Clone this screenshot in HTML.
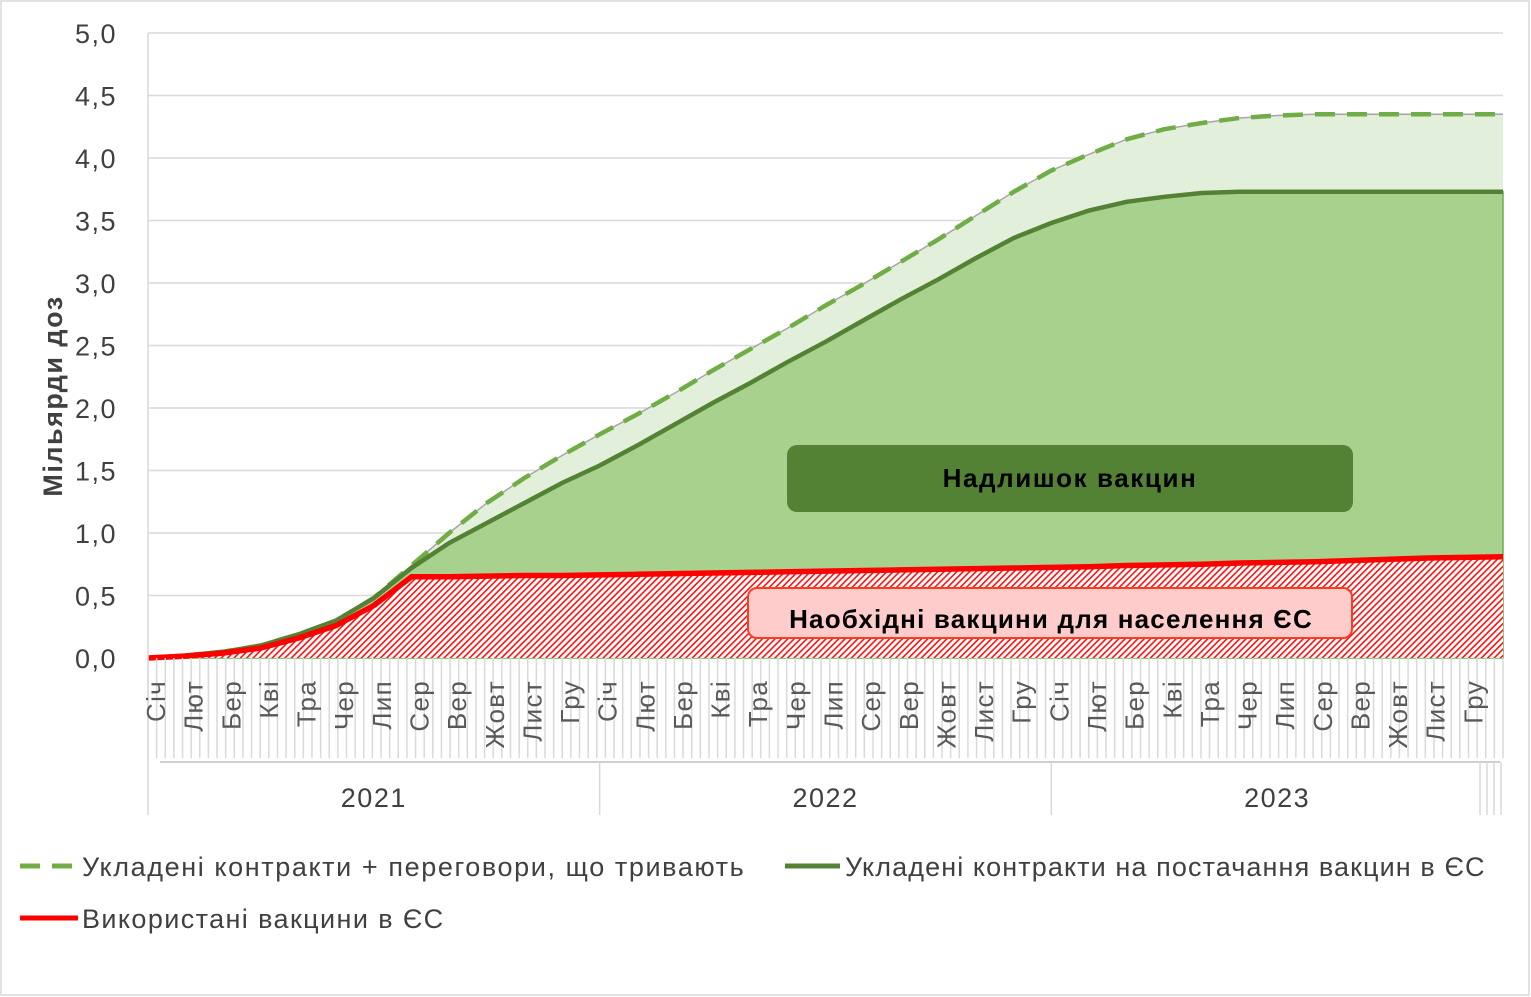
<!DOCTYPE html>
<html><head><meta charset="utf-8"><style>
html,body{margin:0;padding:0;background:#fff}
svg{display:block;font-family:"Liberation Sans","DejaVu Sans",sans-serif}
</style></head><body>
<svg id="chart" width="1531" height="997" viewBox="0 0 1531 997">
<defs>
<pattern id="hatch" width="4.5" height="4.5" patternUnits="userSpaceOnUse" patternTransform="rotate(45)">
<rect width="4.5" height="4.5" fill="#fff"/><rect width="1.6" height="4.5" fill="#ff1010"/>
</pattern>
</defs>
<rect x="1" y="1" width="1528" height="994" fill="#fff" stroke="#d9d9d9" stroke-width="1.5"/>
<g id="grid"></g>
<g id="areas"></g>
<g id="lines"></g>
<g id="axes"></g>
<rect x="787" y="445" width="566" height="67" rx="10" fill="#548235"/>
<text x="1070" y="487" text-anchor="middle" font-size="26" font-weight="bold" letter-spacing="1.6" fill="#000">Надлишок вакцин</text>
<rect x="748" y="588" width="604" height="50" rx="9" fill="#ffcccc" stroke="#ff3b1f" stroke-width="2"/>
<text x="1051" y="628" text-anchor="middle" font-size="26" font-weight="bold" letter-spacing="1.2" fill="#000">Наобхідні вакцини для населення ЄС</text>
<text transform="translate(62,396) rotate(-90)" text-anchor="middle" font-size="27" font-weight="bold" letter-spacing="1.5" fill="#404040">Мільярди доз</text>
<g>
<line x1="20" y1="866" x2="78" y2="866" stroke="#70ad47" stroke-width="5" stroke-dasharray="20,12"/>
<text x="82" y="876" font-size="27" letter-spacing="1.6" fill="#404040">Укладені контракти + переговори, що тривають</text>
<line x1="785" y1="866" x2="840" y2="866" stroke="#548235" stroke-width="5"/>
<text x="845" y="876" font-size="27" letter-spacing="1.1" fill="#404040">Укладені контракти  на постачання вакцин в ЄС</text>
<line x1="20" y1="918" x2="78" y2="918" stroke="#ff0000" stroke-width="5"/>
<text x="82" y="928" font-size="27" letter-spacing="1.4" fill="#404040">Використані вакцини в ЄС</text>
</g>
</svg>
<script>
const months = ["Січ","Лют","Бер","Кві","Тра","Чер","Лип","Сер","Вер","Жовт","Лист","Гру"];
const years = ["2021","2022","2023"];
const yTicks = ["0,0","0,5","1,0","1,5","2,0","2,5","3,0","3,5","4,0","4,5","5,0"];
const dashedVals = [0,0.02,0.05,0.10,0.19,0.30,0.48,0.74,1.0,1.24,1.44,1.62,1.79,1.95,2.12,2.30,2.47,2.64,2.82,2.99,3.17,3.35,3.54,3.73,3.90,4.03,4.15,4.23,4.28,4.32,4.34,4.35,4.35,4.35,4.35,4.35,4.35];
const solidVals = [0,0.02,0.05,0.10,0.19,0.30,0.48,0.72,0.92,1.08,1.24,1.40,1.54,1.70,1.87,2.04,2.20,2.37,2.53,2.70,2.87,3.03,3.20,3.36,3.48,3.58,3.65,3.69,3.72,3.73,3.73,3.73,3.73,3.73,3.73,3.73,3.73];
const usedVals = [0,0.015,0.04,0.08,0.16,0.26,0.42,0.65,0.65,0.655,0.66,0.66,0.665,0.67,0.675,0.68,0.685,0.69,0.695,0.70,0.705,0.71,0.715,0.72,0.725,0.73,0.74,0.745,0.75,0.76,0.765,0.77,0.78,0.79,0.80,0.805,0.81];

const NS="http://www.w3.org/2000/svg";
const X0=148, X1=1503, Y0=658, YTOP=33, YMAX=5;
const nM = dashedVals.length-1;
const xs = m => X0 + (X1-X0)*m/nM;
const ys = v => Y0 - (Y0-YTOP)*v/YMAX;
function mk(tag, attrs, parent){const e=document.createElementNS(NS,tag);for(const k in attrs)e.setAttribute(k,attrs[k]);parent.appendChild(e);return e;}
const grid=document.getElementById('grid'), areas=document.getElementById('areas'), lines=document.getElementById('lines'), axes=document.getElementById('axes');

yTicks.forEach((t,i)=>{
  const v=i*0.5, y=ys(v);
  if(i>0){const g=mk('line',{x1:X0,y1:y,x2:X1,y2:y,stroke:'#d9d9d9','stroke-width':1.5},grid);
  
  }
  const tx=mk('text',{x:117,y:y+10,'text-anchor':'end','font-size':27,'letter-spacing':1.5,fill:'#404040'},axes);
  tx.textContent=t;
  
  
});

function pts(vals){return vals.map((v,m)=>xs(m).toFixed(1)+','+ys(v).toFixed(1)).join(' ');}
function area(vals){return xs(0)+','+Y0+' '+pts(vals)+' '+xs(nM)+','+Y0;}
const a1=mk('polygon',{points:area(dashedVals),fill:'#e2efda'},areas);


const a2=mk('polygon',{points:area(solidVals),fill:'#a9d18e',stroke:'#70ad47','stroke-width':1.5},areas);


const a3=mk('polygon',{points:area(usedVals),fill:'url(#hatch)'},areas);



const l0=mk('polyline',{points:pts(dashedVals),fill:'none',stroke:'#a6a6a6','stroke-width':1.5},lines);


const l1=mk('polyline',{points:pts(dashedVals),fill:'none',stroke:'#70ad47','stroke-width':4.5,'stroke-dasharray':'20,12'},lines);


const l2=mk('polyline',{points:pts(solidVals),fill:'none',stroke:'#548235','stroke-width':4.5},lines);


const l3=mk('polyline',{points:pts(usedVals),fill:'none',stroke:'#ff0000','stroke-width':5.5,'stroke-linejoin':'round'},lines);



const nW=157;
for(let w=0;w<=nW;w++){
  const x=X0+(X1-X0)*w/nW;
  const t=mk('line',{x1:x,y1:Y0,x2:x,y2:758,stroke:'#d9d9d9','stroke-width':1.5},axes);
  
  
}
const ax=mk('line',{x1:X0,y1:YTOP,x2:X0,y2:815,stroke:'#d9d9d9','stroke-width':1.5},axes);


const hl=mk('line',{x1:160,y1:762,x2:1500,y2:762,stroke:'#bfbfbf','stroke-width':1.5},axes);


years.forEach((yr,i)=>{
  const xa=xs(i*12), xb=xs((i+1)*12);
  if(i>0){const s=mk('line',{x1:xa,y1:762,x2:xa,y2:815,stroke:'#d9d9d9','stroke-width':1.5},axes);
  
  }
  const t=mk('text',{x:(xa+xb)/2,y:807,'text-anchor':'middle','font-size':27,'letter-spacing':1.5,fill:'#404040'},axes);
  t.textContent=yr;
  
  
  months.forEach((mn,j)=>{
    const x=xs(i*12+j)+17;
    const tt=mk('text',{transform:`translate(${x},680) rotate(-90)`,'text-anchor':'end','font-size':26,'letter-spacing':1.3,fill:'#595959'},axes);
    tt.textContent=mn;
    
    
  });
});
for(let k=0;k<4;k++){const x=1480+k*7;
  const t=mk('line',{x1:x,y1:762,x2:x,y2:815,stroke:'#d9d9d9','stroke-width':1.5},axes);
  
  }
</script>
</body></html>
